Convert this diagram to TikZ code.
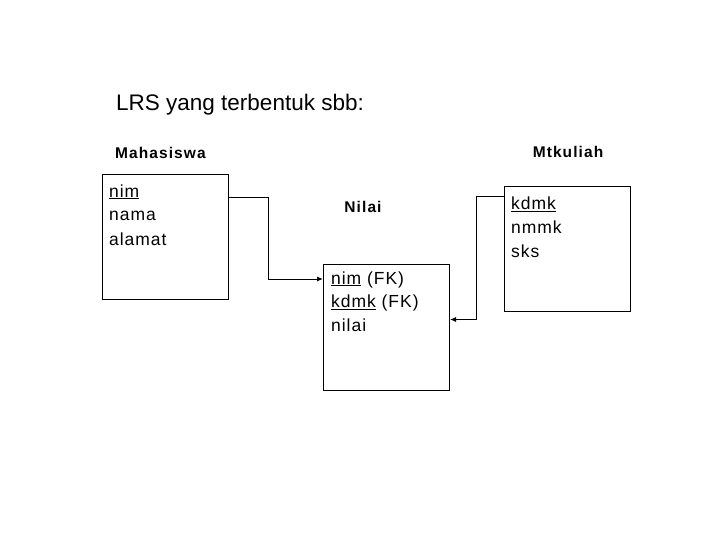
\documentclass[tikz,border=0pt]{standalone}
\usepackage{fontspec}
\setmainfont{Liberation Sans}
\newfontfamily\attrfont[LetterSpace=5.5]{Liberation Sans}
\newfontfamily\ttlfont[LetterSpace=7]{Liberation Sans}
\usetikzlibrary{arrows.meta,calc}
\begin{document}
\begin{tikzpicture}[x=1pt,y=-1pt,
  tbl/.style={draw,line width=1pt,anchor=north west,inner sep=0pt},
  attr/.style={anchor=base west,inner sep=0pt,font=\attrfont\fontsize{17.5}{20}\selectfont},
  ttl/.style={anchor=base west,inner sep=0pt,font=\ttlfont\fontsize{15.5}{18}\selectfont\bfseries},
  conn/.style={line width=1pt,-{Latex[length=6pt,width=5pt]}}]
\useasboundingbox (0,0) rectangle (720,540);
\node[anchor=base west,inner sep=0pt,font=\fontsize{22.5}{26}\selectfont] (head) at (116,110.5) {LRS yang terbentuk sbb:};
\node[ttl] (tmhs) at (115,159) {Mahasiswa};
\node[ttl,anchor=base] (tmtk) at (568,158) {Mtkuliah};
\node[ttl,anchor=base] (tnil) at (363,213) {Nilai};
\node[tbl,minimum width=126pt,minimum height=125pt] (mhs) at (102,174) {};
\node[tbl,minimum width=126pt,minimum height=126pt] (nil) at (323,264) {};
\node[tbl,minimum width=126pt,minimum height=125pt] (mtk) at (504,186) {};
\node[attr] (a1) at (109,197) {\underline{nim}};
\node[attr] (a2) at (109,221) {nama};
\node[attr] (a3) at (109,245) {alamat};
\node[attr] (b1) at (331,284) {\underline{nim} (FK)};
\node[attr] (b2) at (331,307.5) {\underline{kdmk} (FK)};
\node[attr] (b3) at (331,331) {nilai};
\node[attr] (c1) at (511,210) {\underline{kdmk}};
\node[attr] (c2) at (511,233.5) {nmmk};
\node[attr] (c3) at (511,257) {sks};
\draw[conn] ([yshift=-24pt]mhs.north east) -- ++(39,0) |- ([yshift=-15pt]nil.north west);
\draw[conn] ([yshift=-11pt]mtk.north west) -- ++(-28,0) |- ([yshift=-55.5pt]nil.north east);
\end{tikzpicture}
\end{document}
